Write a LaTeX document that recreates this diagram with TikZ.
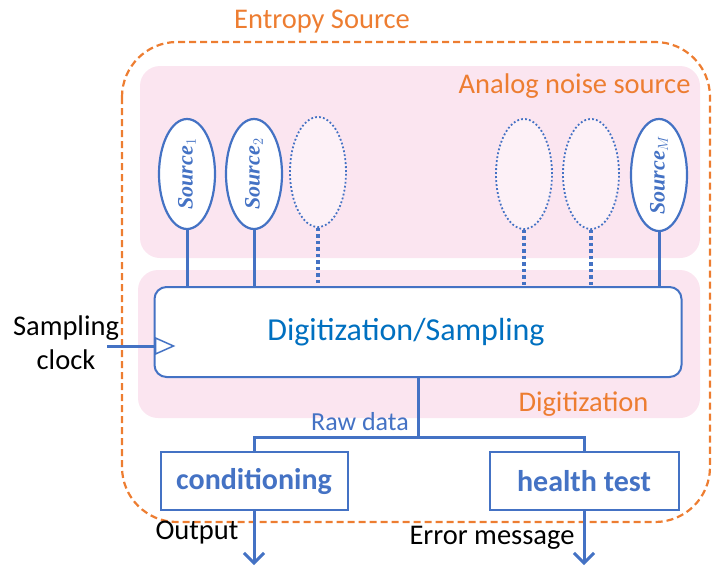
\documentclass[tikz,border=0pt]{standalone}
\usepackage{fontspec}
\setmainfont{Carlito}
\newfontfamily\srcfont{Liberation Serif}
\usepackage{tikz}
\usetikzlibrary{calc, arrows.meta, shapes.geometric, positioning}
\tikzset{>=latex}
\definecolor{myorange}{RGB}{237, 125, 49}
\definecolor{myblue}{RGB}{68, 114, 196}
\definecolor{mytextblue}{RGB}{0, 112, 192}
\definecolor{mypink}{RGB}{251, 229, 240}
\tikzset{
  srcnode/.style = {ellipse, draw=myblue, line width=2.2pt, fill=white, text=myblue, minimum width=56pt, minimum height=110pt, inner sep=0pt},
  ghostnode/.style = {ellipse, draw=myblue, line width=1.8pt, dash pattern=on 1.8pt off 2.2pt, fill=mypink!55, minimum width=56pt, minimum height=110pt, inner sep=0pt},
  wire/.style = {draw=myblue, line width=3pt},
  dotwire/.style = {draw=myblue, line width=3.5pt, dash pattern=on 3.5pt off 3pt},
  blockbox/.style = {draw=myblue, line width=2pt, fill=white, text=myblue, font=\fontsize{30}{34}\selectfont\bfseries},
  regionbox/.style = {fill=mypink, rounded corners=20pt},
  regionlabel/.style = {text=myorange, font=\fontsize{28.5}{32}\selectfont},
  plainlabel/.style = {text=black, font=\fontsize{28.5}{32}\selectfont, inner sep=0pt}
}
\newcommand{\srctext}[1]{\rotatebox{90}{\fontsize{22}{24}\selectfont{\srcfont\bfseries\itshape Source}$_{#1}$}}
\begin{document}
\begin{tikzpicture}[x=1pt, y=-1pt]
\useasboundingbox (0,0) rectangle (712,565);
% entropy source frame
\draw[myorange, line width=2.2pt, dash pattern=on 7pt off 4pt, rounded corners=55pt] (122,42) rectangle (710,522);
\node[regionlabel] (entlabel) at (322,22) {Entropy Source};
% pink regions
\fill[regionbox] (140,66) rectangle (700,258);
\fill[regionbox] (138,270) rectangle (700,418);
\node[regionlabel, anchor=east] (analoglabel) at (694,86) {Analog noise source};
\node[regionlabel, anchor=east] (diglabel) at (652,404) {Digitization};
% noise sources
\node[srcnode] (src1) at (187,174) {\srctext{1}};
\node[srcnode] (src2) at (254,174) {\srctext{2}};
\node[ghostnode] (src3) at (318,172) {};
\node[ghostnode] (src4) at (524,174) {};
\node[ghostnode] (src5) at (591,174) {};
\node[srcnode] (srcM) at (659,175) {\srctext{M}};
% digitization block
\node[draw=myblue, line width=2pt, fill=white, rounded corners=12pt, minimum width=527pt, minimum height=90pt] (dig) at (418,332) {};
\node[text=mytextblue, font=\fontsize{32}{36}\selectfont] (digtext) at (406,332) {Digitization/Sampling};
\draw[wire] (src1.south) -- (src1.south |- dig.north);
\draw[wire] (src2.south) -- (src2.south |- dig.north);
\draw[wire] (srcM.south) -- (srcM.south |- dig.north);
\draw[dotwire] (src3.south) -- (src3.south |- dig.north);
\draw[dotwire] (src4.south) -- (src4.south |- dig.north);
\draw[dotwire] (src5.south) -- (src5.south |- dig.north);
% sampling clock
\node[plainlabel, align=center] (clklabel) at (66,343) {Sampling\\[2pt]clock};
\coordinate (clk) at (107,346);
\draw[wire] (clk) -- (clk -| dig.west);
\draw[draw=myblue, line width=1.5pt, fill=white] ($(clk -| dig.west)+(2,-8)$) -- ++(18,8) -- ++(-18,8) -- cycle;
% raw data split
\node[minimum width=187pt, minimum height=58pt, blockbox] (cond) at (254,481) {conditioning};
\node[minimum width=189pt, minimum height=58pt, blockbox] (health) at (584,481) {health test};
\coordinate (split) at (dig.south |- 0,437);
\draw[wire] (dig.south) -- (split);
\draw[wire] (cond.north) |- (split) -| (health.north);
\node[text=myblue, font=\fontsize{26}{30}\selectfont] (rawlabel) at (360,422) {Raw data};
% outputs
\coordinate (outend) at (cond.south |- 0,565);
\coordinate (errend) at (health.south |- 0,565);
\draw[wire, -{Straight Barb[length=10pt, width=20pt, line width=3pt]}] (cond.south) -- (outend);
\draw[wire, -{Straight Barb[length=10pt, width=20pt, line width=3pt]}] (health.south) -- (errend);
\node[plainlabel] (outlabel) at (197,533) {Output};
\node[plainlabel] (errlabel) at (492,538) {Error message};
\end{tikzpicture}
\end{document}
